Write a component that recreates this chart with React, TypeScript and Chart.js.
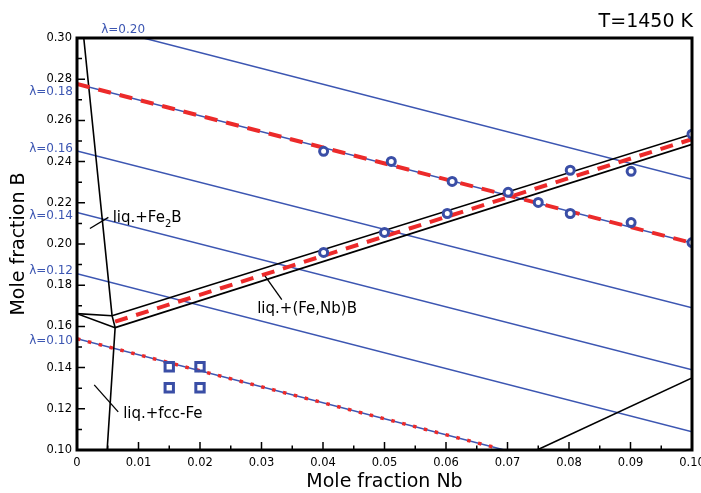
import React, { useEffect, useRef } from 'react';
import { Chart, registerables } from 'chart.js';
Chart.register(...registerables);

const FONT = '"DejaVu Sans", Verdana, sans-serif';
const BLUE = '#3c56b2';
const MARK = '#3a4ea6';
const RED = '#ec2a2a';
const BLACK = '#000000';

// axis ticks
const xTickValues = [0, 0.01, 0.02, 0.03, 0.04, 0.05, 0.06, 0.07, 0.08, 0.09, 0.1];
const xTickLabels = ['0', '0.01', '0.02', '0.03', '0.04', '0.05', '0.06', '0.07', '0.08', '0.09', '0.10'];
const yTickValues = [0.1, 0.12, 0.14, 0.16, 0.18, 0.2, 0.22, 0.24, 0.26, 0.28, 0.3];
const yTickLabels = ['0.10', '0.12', '0.14', '0.16', '0.18', '0.20', '0.22', '0.24', '0.26', '0.28', '0.30'];

// iso-lambda lines (start/end)
const lambdaNames = ['λ=0.20', 'λ=0.18', 'λ=0.16', 'λ=0.14', 'λ=0.12', 'λ=0.10'];
const lambdaX0 = [0.0108, 0, 0, 0, 0, 0];
const lambdaY0 = [0.3, 0.2777, 0.2451, 0.2153, 0.1856, 0.154];
const lambdaX1 = [0.1, 0.1, 0.1, 0.1, 0.1, 0.0695];
const lambdaY1 = [0.2314, 0.2005, 0.169, 0.139, 0.1088, 0.1];
// label anchors (data coords): first is centred above frame, others right of axis
const lambdaLabelX = [0.0075, 0, 0, 0, 0, 0];
const lambdaLabelY = [0.3024, 0.2723, 0.2445, 0.2119, 0.1852, 0.1516];

// (Fe,Nb)B band centre (red dashed)
const bandMidX = [0.0062, 0.1];
const bandMidY = [0.1623, 0.2509];
// red dotted along lambda=0.10
const redDotX = [0, 0.0685];
const redDotY = [0.154, 0.1008];

// phase boundaries
const boundaryAX = [0.0011, 0.0057, 0.0062, 0.0049];
const boundaryAY = [0.3, 0.1652, 0.1594, 0.1];
const triTopX = [0, 0.0057];
const triTopY = [0.1662, 0.1652];
const triBotX = [0, 0.0062];
const triBotY = [0.1662, 0.1594];
const bandUpX = [0.0057, 0.1];
const bandUpY = [0.1652, 0.2533];
const bandLowX = [0.0062, 0.1];
const bandLowY = [0.1594, 0.2484];
const lowerRightX = [0.0748, 0.1];
const lowerRightY = [0.1, 0.135];

// pointer lines for phase labels
const ptrFe2BX = [0.0021, 0.0051];
const ptrFe2BY = [0.2075, 0.2129];
const ptrFeNbBX = [0.0303, 0.0333];
const ptrFeNbBY = [0.1856, 0.173];
const ptrFccX = [0.0028, 0.0067];
const ptrFccY = [0.1316, 0.1185];

// experimental points
const tieCircX = [0.0401, 0.0511, 0.061, 0.075, 0.0802, 0.0901, 0.1];
const tieCircY = [0.245, 0.2401, 0.2304, 0.2202, 0.2148, 0.2104, 0.2007];
const bandCircX = [0.0401, 0.05, 0.0602, 0.0701, 0.0802, 0.0901, 0.1];
const bandCircY = [0.1959, 0.2056, 0.2148, 0.2251, 0.2358, 0.2353, 0.2533];
const squareX = [0.015, 0.02, 0.015, 0.02];
const squareY = [0.1404, 0.1404, 0.1302, 0.1302];

// phase labels (left x, baseline y in data coords)
const phaseLabelParts = [
  [{ t: 'liq.+Fe' }, { t: '2', sub: true }, { t: 'B' }],
  [{ t: 'liq.+(Fe,Nb)B' }],
  [{ t: 'liq.+fcc-Fe' }],
];
const phaseLabelX = [0.0058, 0.0293, 0.0075];
const phaseLabelY = [0.2105, 0.1667, 0.1156];

const pts = (xs: number[], ys: number[]) => xs.map((x, i) => ({ x, y: ys[i] }));

const line = (xs: number[], ys: number[], color: string, width: number, order: number, dash: number[] = []) => ({
  type: 'scatter' as const,
  data: pts(xs, ys),
  showLine: true,
  borderColor: color,
  backgroundColor: color,
  borderWidth: width,
  borderDash: dash,
  pointRadius: 0,
  pointHoverRadius: 0,
  order,
});

const decor = {
  id: 'decor',
  afterDatasetsDraw(chart: any) {
    const { ctx, chartArea, scales } = chart;
    const { left, right, top, bottom } = chartArea;
    const x = scales.x;
    const y = scales.y;
    ctx.save();
    // ticks
    ctx.strokeStyle = BLACK;
    ctx.lineWidth = 1.5;
    ctx.beginPath();
    xTickValues.forEach((v, i) => {
      const px = x.getPixelForValue(v);
      ctx.moveTo(px, bottom);
      ctx.lineTo(px, bottom - 8);
      if (i < xTickValues.length - 1) {
        const pm = x.getPixelForValue((v + xTickValues[i + 1]) / 2);
        ctx.moveTo(pm, bottom);
        ctx.lineTo(pm, bottom - 4.5);
      }
    });
    yTickValues.forEach((v, i) => {
      const py = y.getPixelForValue(v);
      ctx.moveTo(left, py);
      ctx.lineTo(left + 8, py);
      if (i < yTickValues.length - 1) {
        const pm = y.getPixelForValue((v + yTickValues[i + 1]) / 2);
        ctx.moveTo(left, pm);
        ctx.lineTo(left + 5, pm);
      }
    });
    ctx.stroke();
    // frame
    ctx.lineWidth = 3;
    ctx.strokeRect(left, top, right - left, bottom - top);

    // lambda labels
    ctx.fillStyle = BLUE;
    ctx.font = `12px ${FONT}`;
    ctx.textBaseline = 'alphabetic';
    lambdaNames.forEach((name, i) => {
      const py = y.getPixelForValue(lambdaLabelY[i]);
      if (i === 0) {
        ctx.textAlign = 'center';
        ctx.fillText(name, x.getPixelForValue(lambdaLabelX[i]), py);
      } else {
        ctx.textAlign = 'right';
        ctx.fillText(name, x.getPixelForValue(lambdaLabelX[i]) - 4, py);
      }
    });

    // phase labels
    ctx.fillStyle = BLACK;
    ctx.textAlign = 'left';
    phaseLabelParts.forEach((parts, i) => {
      let px = x.getPixelForValue(phaseLabelX[i]);
      const py = y.getPixelForValue(phaseLabelY[i]);
      parts.forEach((p: any) => {
        ctx.font = p.sub ? `10px ${FONT}` : `15px ${FONT}`;
        ctx.fillText(p.t, px, p.sub ? py + 5 : py);
        px += ctx.measureText(p.t).width;
      });
    });

    // temperature
    ctx.font = `19px ${FONT}`;
    ctx.textAlign = 'right';
    ctx.fillText('T=1450 K', right + 1, 27);
    ctx.restore();
  },
};

export default function App() {
  const ref = useRef<HTMLCanvasElement>(null);
  useEffect(() => {
    document.body.style.margin = '0';
    const lambdaSets = lambdaNames.map((_, i) =>
      line([lambdaX0[i], lambdaX1[i]], [lambdaY0[i], lambdaY1[i]], BLUE, 1.5, 40)
    );
    const circleStyle = {
      type: 'scatter',
      pointStyle: 'circle',
      pointRadius: 4,
      pointBorderWidth: 3,
      borderColor: MARK,
      backgroundColor: '#ffffff',
      order: 1,
    };
    const chart = new Chart(ref.current as HTMLCanvasElement, {
      type: 'scatter',
      data: {
        datasets: [
          { ...circleStyle, data: pts(tieCircX, tieCircY) },
          { ...circleStyle, data: pts(bandCircX, bandCircY) },
          {
            type: 'scatter',
            data: pts(squareX, squareY),
            pointStyle: 'rect',
            pointRadius: 5.9,
            pointBorderWidth: 3,
            borderColor: MARK,
            backgroundColor: 'rgba(255,255,255,0)',
            order: 1,
          },
          line([lambdaX0[1], lambdaX1[1]], [lambdaY0[1], lambdaY1[1]], RED, 4, 10, [13, 9]),
          line(bandMidX, bandMidY, RED, 4, 10, [13, 9]),
          line(redDotX, redDotY, RED, 3.5, 10, [3.5, 7.7]),
          line(boundaryAX, boundaryAY, BLACK, 1.6, 20),
          line(triTopX, triTopY, BLACK, 1.6, 20),
          line(triBotX, triBotY, BLACK, 1.6, 20),
          line(bandUpX, bandUpY, BLACK, 1.6, 20),
          line(bandLowX, bandLowY, BLACK, 1.6, 20),
          line(lowerRightX, lowerRightY, BLACK, 1.6, 20),
          line(ptrFe2BX, ptrFe2BY, BLACK, 1.3, 20),
          line(ptrFeNbBX, ptrFeNbBY, BLACK, 1.3, 20),
          line(ptrFccX, ptrFccY, BLACK, 1.3, 20),
          ...lambdaSets,
        ] as any,
      },
      options: {
        responsive: false,
        animation: false,
        events: [],
        layout: { padding: { top: 38, right: 9, left: 0, bottom: 0 } },
        plugins: { legend: { display: false }, tooltip: { enabled: false }, title: { display: false } },
        scales: {
          x: {
            type: 'linear',
            min: 0,
            max: 0.1,
            afterFit: (s: any) => { s.height = 43; s.paddingLeft = 0; s.paddingRight = 0; },
            afterBuildTicks: (s: any) => { s.ticks = xTickValues.map((v) => ({ value: v })); },
            grid: { display: false, drawTicks: false },
            border: { display: false },
            ticks: {
              padding: 6,
              color: BLACK,
              maxRotation: 0,
              autoSkip: false,
              font: { family: FONT, size: 11.5 },
              callback: (_v: any, i: number) => xTickLabels[i],
            },
            title: {
              display: true,
              text: 'Mole fraction Nb',
              color: BLACK,
              font: { family: FONT, size: 19 },
              padding: { top: 0, bottom: 0 },
            },
          },
          y: {
            type: 'linear',
            min: 0.1,
            max: 0.3,
            afterFit: (s: any) => { s.width = 77; s.paddingTop = 0; s.paddingBottom = 0; },
            afterBuildTicks: (s: any) => { s.ticks = yTickValues.map((v) => ({ value: v })); },
            grid: { display: false, drawTicks: false },
            border: { display: false },
            ticks: {
              padding: 5,
              color: BLACK,
              autoSkip: false,
              font: { family: FONT, size: 11.5 },
              callback: (_v: any, i: number) => yTickLabels[i],
            },
            title: {
              display: true,
              text: 'Mole fraction B',
              color: BLACK,
              font: { family: FONT, size: 19 },
              padding: { top: 8, bottom: 0 },
            },
          },
        },
      },
      plugins: [decor],
    } as any);
    return () => chart.destroy();
  }, []);
  return (
    <div style={{ width: 701, height: 493 }}>
      <canvas ref={ref} width={701} height={493} style={{ width: 701, height: 493, display: 'block' }} />
    </div>
  );
}
